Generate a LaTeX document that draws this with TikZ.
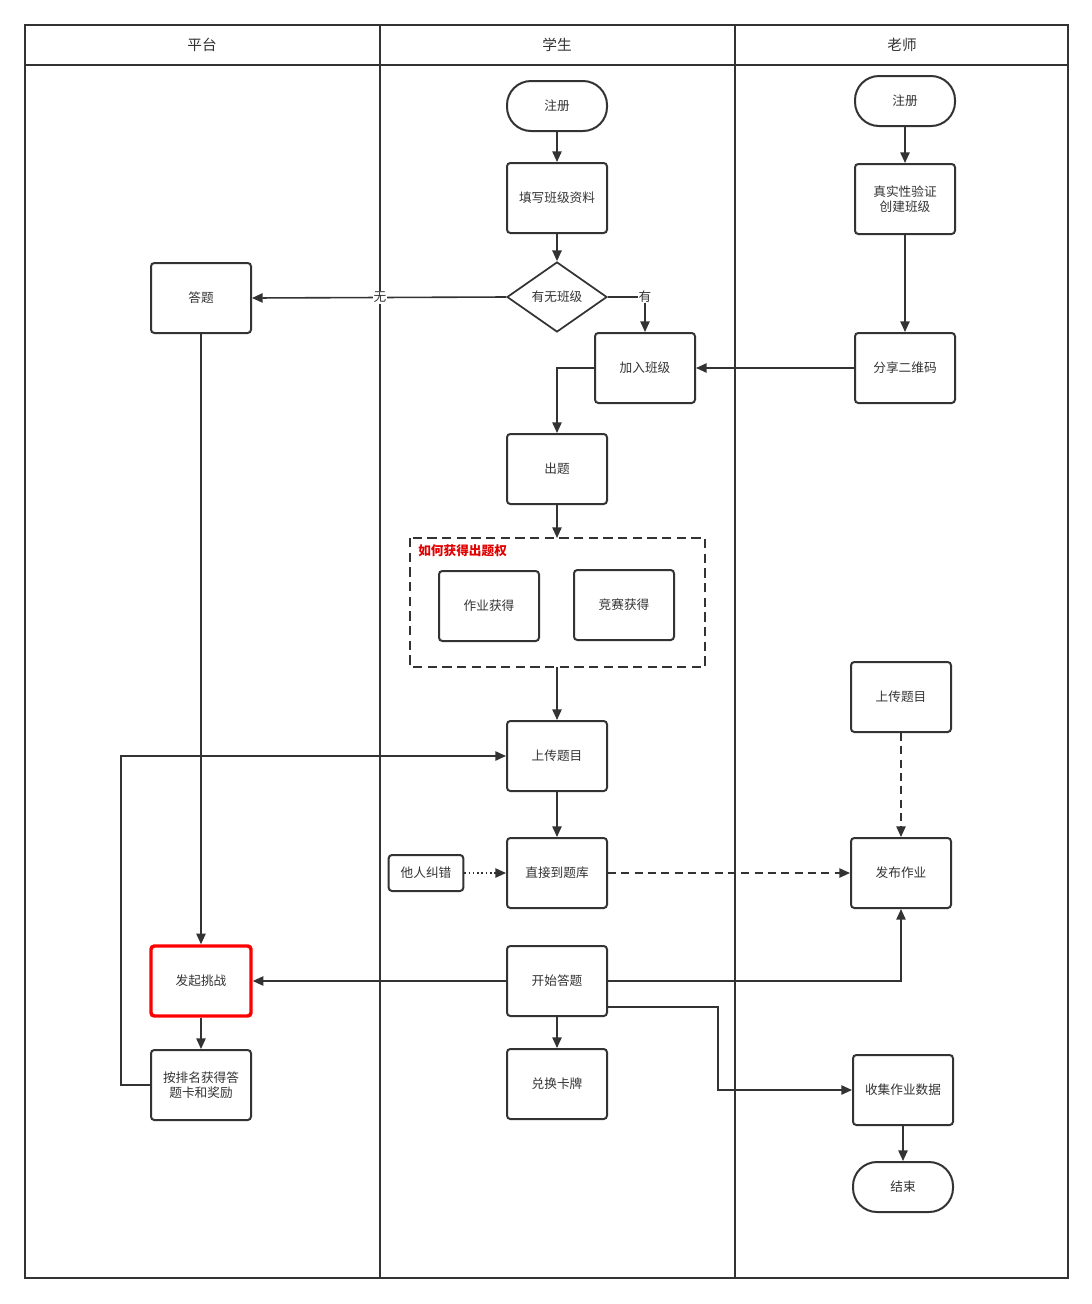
\documentclass[tikz,border=0pt]{standalone}
\usepackage{fontspec}
\setmainfont{Noto Sans CJK SC}
\usetikzlibrary{shapes.geometric,arrows.meta}
\definecolor{ink}{HTML}{333333}
\definecolor{redc}{HTML}{E00000}
\tikzset{
  box/.style={draw=ink,line width=1.5pt,rounded corners=2.5pt,minimum width=75pt,minimum height=52.5pt,align=center,font=\fontsize{9.5}{11.5}\selectfont,text=ink,inner sep=1pt},
  term/.style={draw=ink,line width=1.5pt,rounded corners=18pt,minimum width=75pt,minimum height=37.5pt,font=\fontsize{9.5}{11.5}\selectfont,text=ink},
  dec/.style={draw=ink,line width=1.3pt,diamond,aspect=1.43,minimum width=75pt,minimum height=52.5pt,inner sep=0pt,font=\fontsize{9.5}{11.5}\selectfont,text=ink},
  conn/.style={draw=ink,line width=1.2pt,-{Triangle[length=8pt,width=7pt]}},
  lane/.style={draw=ink,line width=1.5pt},
  hdr/.style={font=\fontsize{11}{13}\selectfont,text=ink},
  lbl/.style={fill=white,inner sep=0.5pt,font=\fontsize{9.5}{11.5}\selectfont,text=ink}
}
\begin{document}
\begin{tikzpicture}[x=0.75pt,y=-0.75pt]
\useasboundingbox (0,0) rectangle (1092,1304);
% lanes
\draw[lane] (25,25) rectangle (1068,1278);
\draw[lane] (25,65) -- (1068,65);
\draw[lane] (380,25) -- (380,1278);
\draw[lane] (735,25) -- (735,1278);
\node[hdr] (h1) at (202,45) {平台};
\node[hdr] (h2) at (557,45) {学生};
\node[hdr] (h3) at (902,45) {老师};
% student column
\node[term] (sreg) at (557,106) {注册};
\node[box] (fill) at (557,198) {填写班级资料};
\node[dec] (has) at (557,297) {有无班级};
\node[box] (join) at (645,368) {加入班级};
\node[box] (out) at (557,469) {出题};
\draw[ink,line width=1.5pt,dash pattern=on 7pt off 4pt] (410,538) rectangle (705,667);
\coordinate (gtop) at (557,538);
\coordinate (gbot) at (557,667);
\node[anchor=west,text=redc,font=\fontsize{9.5}{11.5}\selectfont\bfseries,inner sep=0pt] (gl) at (418,551) {如何获得出题权};
\node[box] (hw) at (489,606) {作业获得};
\node[box] (comp) at (624,605) {竞赛获得};
\node[box] (sup) at (557,756) {上传题目};
\node[box,minimum width=56pt,minimum height=27pt] (other) at (426,873) {他人纠错};
\node[box] (bank) at (557,873) {直接到题库};
\node[box] (start) at (557,981) {开始答题};
\node[box] (card) at (557,1084) {兑换卡牌};
% platform column
\node[box] (ans) at (201,298) {答题};
\node[box,draw=red,line width=2.6pt] (chal) at (201,981) {发起挑战};
\node[box] (rank) at (201,1085) {按排名获得答\\题卡和奖励};
% teacher column
\node[term] (treg) at (905,101) {注册};
\node[box] (verify) at (905,199) {真实性验证\\创建班级};
\node[box] (qr) at (905,368) {分享二维码};
\node[box] (tup) at (901,697) {上传题目};
\node[box] (pub) at (901,873) {发布作业};
\node[box] (coll) at (903,1090) {收集作业数据};
\node[term] (end) at (903,1187) {结束};
% connectors
\draw[conn] (sreg) -- (fill);
\draw[conn] (fill) -- (has);
\draw[conn] (has.west) -- node[lbl,pos=0.497] {无} (ans.east);
\draw[conn] (has.east) -- (645,297) node[lbl] {有} -- (join.north);
\draw[conn] (treg) -- (verify);
\draw[conn] (verify) -- (qr);
\draw[conn] (qr) -- (join);
\draw[conn] (join.west) -| (out.north);
\draw[conn] (out) -- (gtop);
\draw[conn] (gbot) -- (sup);
\draw[conn] (ans) -- (chal);
\draw[conn] (rank.west) -- (121,1085) |- (sup.west);
\draw[conn] (sup) -- (bank);
\draw[conn,dotted] (other) -- (bank);
\draw[conn,dash pattern=on 6pt off 4pt] (bank) -- (pub);
\draw[conn,dash pattern=on 6pt off 4pt] (tup) -- (pub);
\draw[conn] (start) -- (chal);
\draw[conn] (start.east) -| (pub.south);
\draw[conn] (607,1007) -- (718,1007) |- (coll.west);
\draw[conn] (start) -- (card);
\draw[conn] (chal) -- (rank);
\draw[conn] (coll) -- (end);
\end{tikzpicture}
\end{document}
